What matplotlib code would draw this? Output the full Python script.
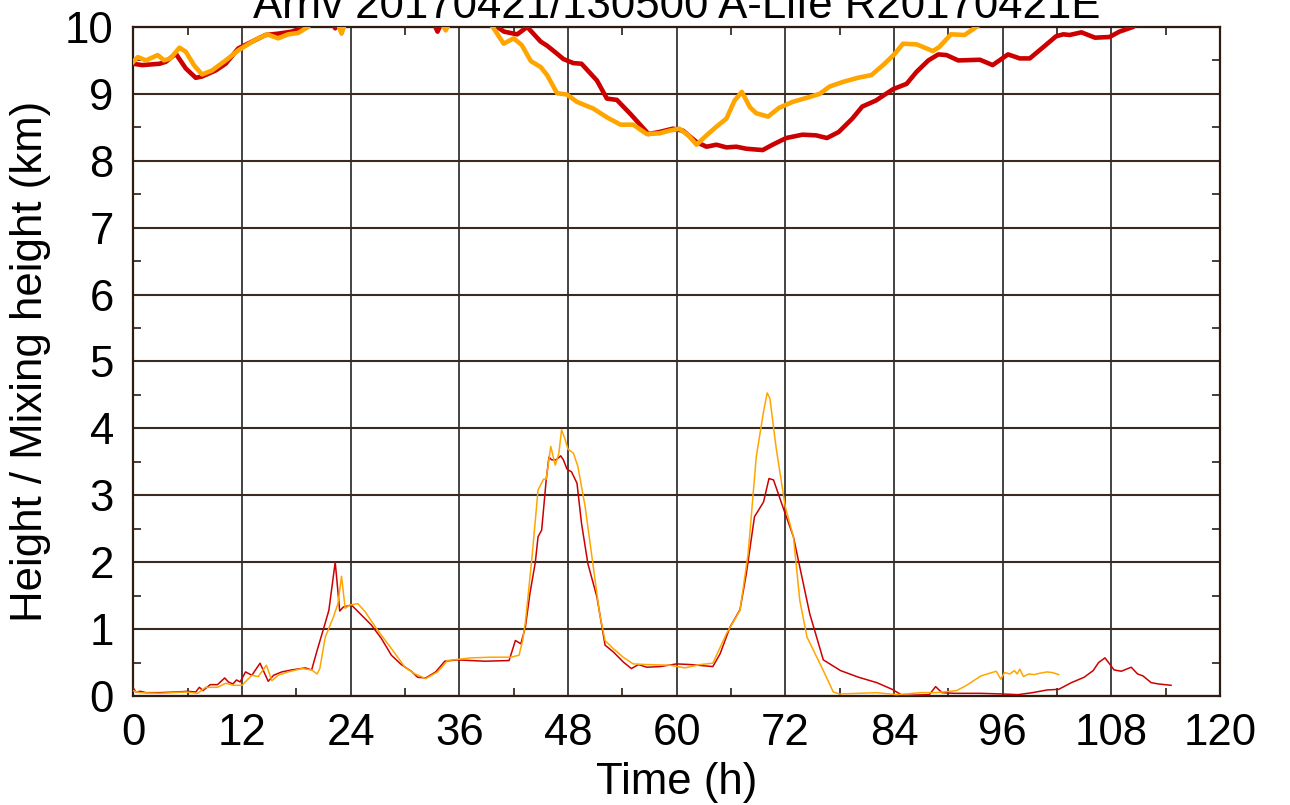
import numpy as np
import matplotlib
matplotlib.use("Agg")
import matplotlib.pyplot as plt

plt.rcParams["font.family"] = ["Liberation Sans", "DejaVu Sans"]

# trajectory height (thick lines), values above 10 are clipped by the axis
red_top_t = [0, 1.0, 2.9, 3.6, 4.7, 5.8, 6.9, 7.6, 9.1, 10.2,
             11.6, 13.1, 14.6, 16.0, 17.5, 19.0, 20.5, 21.8, 22.3, 22.8,
             26, 30, 33.2, 33.6, 34.0, 37, 39.5, 40.2, 40.95, 42.4,
             43.5, 45.0, 45.7, 46.8, 47.5, 48.6, 49.5, 51.2, 52.3, 53.4,
             54.9, 55.9, 56.9, 58.1, 59.6, 60.7, 62.2, 63.3, 64.4, 65.5,
             66.6, 67.7, 69.5, 70.6, 72.1, 73.9, 75.4, 76.6, 77.9, 79.4,
             80.5, 82.0, 83.9, 85.4, 86.5, 87.8, 88.9, 89.8, 91.1, 93.5,
             94.9, 96.6, 97.9, 99.0, 100.5, 101.9, 102.7, 103.4, 104.7, 106.2,
             107.8, 108.9, 110.4, 112, 114.6]
red_top_h = [9.45, 9.43, 9.45, 9.48, 9.6, 9.38, 9.24, 9.26, 9.35, 9.45,
             9.68, 9.78, 9.88, 9.9, 9.93, 10.0, 10.2, 10.1, 9.98, 10.1,
             10.4, 10.3, 10.05, 9.93, 10.05, 10.3, 10.15, 10.0, 9.93, 9.89,
             10.0, 9.78, 9.72, 9.6, 9.52, 9.46, 9.45, 9.2, 8.93, 8.91,
             8.7, 8.55, 8.4, 8.43, 8.48, 8.45, 8.28, 8.21, 8.24, 8.2,
             8.21, 8.18, 8.16, 8.24, 8.34, 8.39, 8.38, 8.34, 8.43, 8.63,
             8.81, 8.9, 9.07, 9.15, 9.33, 9.5, 9.59, 9.58, 9.5, 9.51,
             9.43, 9.59, 9.53, 9.53, 9.7, 9.86, 9.89, 9.88, 9.92, 9.84,
             9.85, 9.93, 10.0, 10.15, 10.3]

orange_top_t = [0, 0.5, 1.4, 2.7, 3.4, 4.1, 5.1, 5.8, 6.7, 7.6,
                8.7, 10.2, 11.6, 13.5, 14.8, 16.0, 17.1, 18.2, 19.3, 21.0,
                22.5, 23.0, 23.5, 27, 31, 34.1, 34.5, 34.9, 37.5, 39.7,
                40.9, 42.0, 42.9, 43.9, 45.0, 45.7, 46.8, 47.9, 49.0, 50.8,
                52.3, 53.8, 55.2, 56.7, 58.1, 59.2, 60.3, 61.3, 62.2, 63.3,
                64.4, 65.5, 66.4, 67.2, 68.1, 68.8, 70.1, 71.3, 72.8, 74.6,
                75.8, 76.9, 78.4, 80.0, 81.5, 82.8, 84.1, 85.0, 86.5, 88.3,
                89.0, 90.3, 91.8, 93.1, 96, 99, 102.1]
orange_top_h = [9.48, 9.55, 9.5, 9.58, 9.5, 9.53, 9.69, 9.63, 9.43, 9.29,
                9.35, 9.5, 9.65, 9.81, 9.89, 9.83, 9.89, 9.91, 10.0, 10.3,
                10.1, 9.9, 10.1, 10.4, 10.3, 10.05, 9.95, 10.05, 10.3, 10.0,
                9.75, 9.83, 9.73, 9.49, 9.4, 9.28, 9.01, 8.99, 8.88, 8.78,
                8.65, 8.54, 8.54, 8.4, 8.41, 8.45, 8.48, 8.38, 8.24, 8.38,
                8.51, 8.63, 8.9, 9.03, 8.8, 8.71, 8.66, 8.79, 8.88, 8.95,
                9.0, 9.11, 9.18, 9.24, 9.28, 9.43, 9.6, 9.75, 9.74, 9.64,
                9.7, 9.89, 9.88, 10.0, 10.3, 10.5, 10.6]

# mixing height (thin lines)
red_mix_t = [0, 0.3, 0.8, 1.4, 2.9, 4.7, 6.0, 6.9, 7.3, 7.7,
             8.5, 9.3, 10.1, 10.5, 11.0, 11.4, 11.8, 12.4, 13.1, 14.0,
             14.9, 15.5, 16.4, 17.5, 19.0, 19.7, 20.3, 21.0, 21.6, 22.3,
             22.8, 23.2, 24.1, 25.2, 26.3, 27.4, 28.5, 29.6, 30.7, 31.4,
             32.3, 33.4, 34.4, 35.8, 38.8, 41.5, 42.2, 42.8, 43.3, 43.8,
             44.4, 44.7, 45.1, 45.6, 45.9, 46.2, 46.7, 47.2, 47.5, 47.9,
             48.4, 49.0, 49.5, 50.2, 51.2, 52.1, 53.0, 54.1, 55.0, 55.8,
             56.7, 58.2, 60.0, 61.5, 64.0, 64.8, 65.9, 67.0, 67.7, 68.6,
             69.6, 70.2, 70.7, 71.8, 72.9, 73.6, 74.7, 76.2, 78.1, 80.1,
             82.1, 83.8, 84.8, 85.4, 87.9, 88.6, 89.3, 90.7, 93.6, 96.0,
             97.7, 99.3, 100.9, 102.2, 103.6, 105.0, 106.0, 106.6, 107.3, 107.7,
             108.3, 109.1, 110.2, 110.9, 111.5, 112.4, 113.2, 114.6]
red_mix_h = [0.12, 0.06, 0.07, 0.05, 0.05, 0.06, 0.07, 0.06, 0.13, 0.08,
             0.17, 0.17, 0.27, 0.21, 0.18, 0.24, 0.21, 0.36, 0.31, 0.49,
             0.22, 0.31, 0.36, 0.39, 0.42, 0.39, 0.68, 1.0, 1.28, 2.0,
             1.27, 1.33, 1.36, 1.21, 1.06, 0.86, 0.61, 0.47, 0.37, 0.28,
             0.27, 0.36, 0.52, 0.54, 0.52, 0.53, 0.83, 0.78, 1.03, 1.53,
             2.0, 2.38, 2.48, 3.23, 3.57, 3.53, 3.53, 3.59, 3.53, 3.39,
             3.35, 3.18, 2.58, 1.98, 1.48, 0.76, 0.66, 0.51, 0.41, 0.47,
             0.43, 0.44, 0.48, 0.47, 0.44, 0.63, 1.03, 1.29, 1.83, 2.68,
             2.9, 3.25, 3.23, 2.8, 2.38, 1.93, 1.23, 0.54, 0.38, 0.28,
             0.2, 0.1, 0.02, 0.01, 0.02, 0.14, 0.05, 0.04, 0.04, 0.03,
             0.02, 0.05, 0.09, 0.10, 0.2, 0.28, 0.38, 0.5, 0.57, 0.5,
             0.39, 0.37, 0.43, 0.33, 0.3, 0.2, 0.18, 0.16]

orange_mix_t = [0, 0.7, 2.9, 5.8, 7.1, 8.0, 9.3, 10.2, 11.1, 12.0,
                13.1, 13.8, 14.7, 15.3, 16.0, 17.1, 18.6, 19.7, 20.3, 20.6,
                21.2, 22.1, 22.6, 23.0, 23.4, 23.9, 24.8, 25.6, 27.0, 28.5,
                30.0, 31.1, 32.3, 33.6, 34.7, 37.3, 39.5, 41.7, 42.6, 43.0,
                43.3, 44.0, 44.7, 45.3, 45.6, 46.1, 46.6, 47.0, 47.3, 47.7,
                48.0, 48.6, 49.1, 49.9, 50.8, 51.5, 52.1, 53.0, 54.1, 55.2,
                56.7, 59.3, 60.9, 62.6, 64.0, 65.5, 67.0, 67.9, 68.8, 69.6,
                70.0, 70.3, 71.0, 72.0, 72.9, 73.6, 74.4, 75.3, 76.2, 77.3,
                78.0, 82.1, 84.3, 87.0, 88.7, 90.9, 91.9, 93.6, 94.8, 95.3,
                95.8, 96.2, 96.8, 97.3, 97.6, 97.9, 98.3, 98.9, 99.5, 100.1,
                100.9, 101.5, 102.2]
orange_mix_h = [0.08, 0.05, 0.04, 0.06, 0.04, 0.13, 0.13, 0.19, 0.16, 0.16,
                0.31, 0.29, 0.46, 0.23, 0.31, 0.36, 0.41, 0.39, 0.33, 0.41,
                0.88, 1.18, 1.38, 1.79, 1.31, 1.36, 1.38, 1.26, 0.98, 0.71,
                0.43, 0.33, 0.26, 0.36, 0.53, 0.57, 0.58, 0.58, 0.61, 0.83,
                1.1, 2.03, 3.08, 3.24, 3.24, 3.73, 3.45, 3.63, 3.98, 3.83,
                3.69, 3.63, 3.43, 2.83, 1.93, 1.23, 0.83, 0.71, 0.58, 0.48,
                0.47, 0.46, 0.42, 0.47, 0.49, 0.93, 1.28, 2.13, 3.58, 4.25,
                4.53, 4.45, 3.7, 2.83, 2.38, 1.43, 0.88, 0.63, 0.38, 0.06,
                0.03, 0.05, 0.02, 0.05, 0.05, 0.08, 0.15, 0.3, 0.35, 0.37,
                0.25, 0.35, 0.33, 0.38, 0.33, 0.4, 0.29, 0.33, 0.32, 0.34,
                0.36, 0.35, 0.32]

xticks = np.arange(0, 121, 12)
yticks = np.arange(0, 11, 1)

red = "#cc0000"
orange = "#ffa500"

fig = plt.figure(figsize=(12.9, 8.05), dpi=100)
ax = fig.add_axes([0.1033, 0.1354, 0.8424, 0.8311])

ax.plot(red_mix_t, red_mix_h, color=red, lw=1.1, zorder=3)
ax.plot(orange_mix_t, orange_mix_h, color=orange, lw=1.1, zorder=3)
ax.plot(red_top_t, red_top_h, color=red, lw=3.3, zorder=4)
ax.plot(orange_top_t, orange_top_h, color=orange, lw=3.3, zorder=4)

ax.set_xlim(0, 120)
ax.set_ylim(0, 10)
ax.set_xticks(xticks)
ax.set_yticks(yticks)
ax.set_xticks(np.arange(6, 120, 12), minor=True)
ax.set_yticks(np.arange(0.5, 10, 1), minor=True)

ax.xaxis.grid(True, color="#111111", lw=1.1)
ax.yaxis.grid(True, color="#3a2a20", lw=1.5)
ax.set_axisbelow(True)

for s in ax.spines.values():
    s.set_color("#2e1c12")
    s.set_linewidth(1.6)

ax.tick_params(which="both", direction="in", top=True, right=True, colors="#2e1c12")
ax.tick_params(which="major", length=0, labelsize=31.5, labelcolor="black", pad=12)
ax.tick_params(axis="y", which="major", pad=14)
ax.tick_params(which="minor", length=6, width=1.2)

ax.set_xlabel("Time (h)", fontsize=31.5, labelpad=6)
ax.set_ylabel("Height / Mixing height (km)", fontsize=31.5, labelpad=10)
ax.set_title("Arriv 20170421/130500 A-Life R20170421E", fontsize=31.5, pad=4)

fig.savefig("out.png", dpi=100)
